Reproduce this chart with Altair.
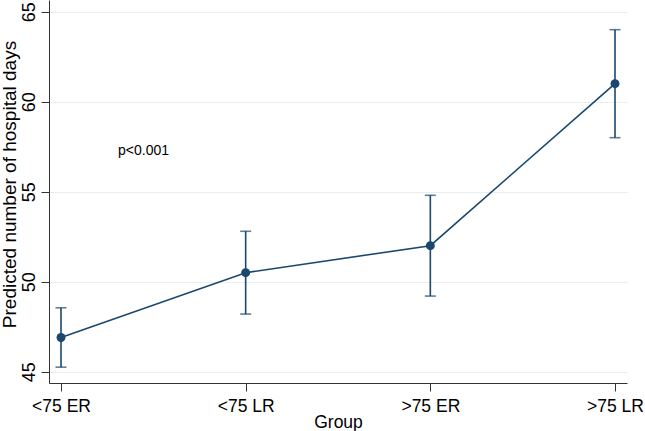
import altair as alt
import pandas as pd

groups = ["<75 ER", "<75 LR", ">75 ER", ">75 LR"]
predicted = [46.9, 50.5, 52.0, 61.0]
lower = [45.25, 48.2, 49.2, 58.0]
upper = [48.55, 52.8, 54.8, 64.0]
annotation = ["p<0.001"]

df = pd.DataFrame({"group": groups, "pred": predicted, "lo": lower, "hi": upper})
ann = pd.DataFrame({"label": annotation})

navy = "#1a476f"
FONT = "Liberation Sans"

x = alt.X("group:N", sort=groups, title="Group",
          scale=alt.Scale(type="point", padding=0.065),
          axis=alt.Axis(labelAngle=0, labelFontSize=17.5, labelFont=FONT, labelColor="#000",
                        labelPadding=6, tickSize=8, tickColor="#333", domainColor="#333",
                        titleFontSize=17.5, titleFont=FONT, titleFontWeight="normal", titleColor="#000",
                        titleBaseline="alphabetic", titleY=44, grid=False))
yscale = alt.Scale(domain=[44.37, 65.65], nice=False, zero=False)
yaxis = alt.Axis(values=[45, 50, 55, 60, 65], labelAngle=270, labelAlign="center",
                 labelBaseline="alphabetic", labelPadding=7, labelFontSize=18, labelFont=FONT,
                 labelColor="#000", tickSize=8, tickColor="#333", domainColor="#333",
                 grid=True, gridColor="#e6eff1", gridWidth=1,
                 title="Predicted number of hospital days", titleAngle=270, titleFontSize=19,
                 titleFont=FONT, titleFontWeight="normal", titleColor="#000",
                 titleBaseline="alphabetic", titleAlign="center", titleX=-34, titleY=184)

base = alt.Chart(df).encode(x=x)

rules = base.mark_rule(color=navy, strokeWidth=1.6).encode(
    y=alt.Y("lo:Q", scale=yscale, axis=yaxis), y2="hi:Q")
cap_lo = base.mark_tick(color=navy, size=11, thickness=1.6, orient="horizontal").encode(
    y=alt.Y("lo:Q", scale=yscale))
cap_hi = base.mark_tick(color=navy, size=11, thickness=1.6, orient="horizontal").encode(
    y=alt.Y("hi:Q", scale=yscale))
line = base.mark_line(color=navy, strokeWidth=1.6).encode(y=alt.Y("pred:Q", scale=yscale))
pts = base.mark_circle(color=navy, size=80, opacity=1).encode(y=alt.Y("pred:Q", scale=yscale))
txt = alt.Chart(ann).mark_text(align="left", baseline="middle", fontSize=14, font=FONT,
                               color="#000").encode(
    x=alt.value(69), y=alt.value(151), text="label:N")

chart = alt.layer(rules, cap_lo, cap_hi, line, pts, txt).properties(
    width=578, height=383,
    autosize=alt.AutoSizeParams(type="none"),
    padding={"left": 49, "top": 0, "right": 18, "bottom": 48},
    view=alt.ViewBackground(strokeWidth=0, strokeOpacity=0),
).configure_view(strokeWidth=0, strokeOpacity=0).configure(background="white")

chart.save("out.html", embed_options={"renderer": "svg", "actions": False})
